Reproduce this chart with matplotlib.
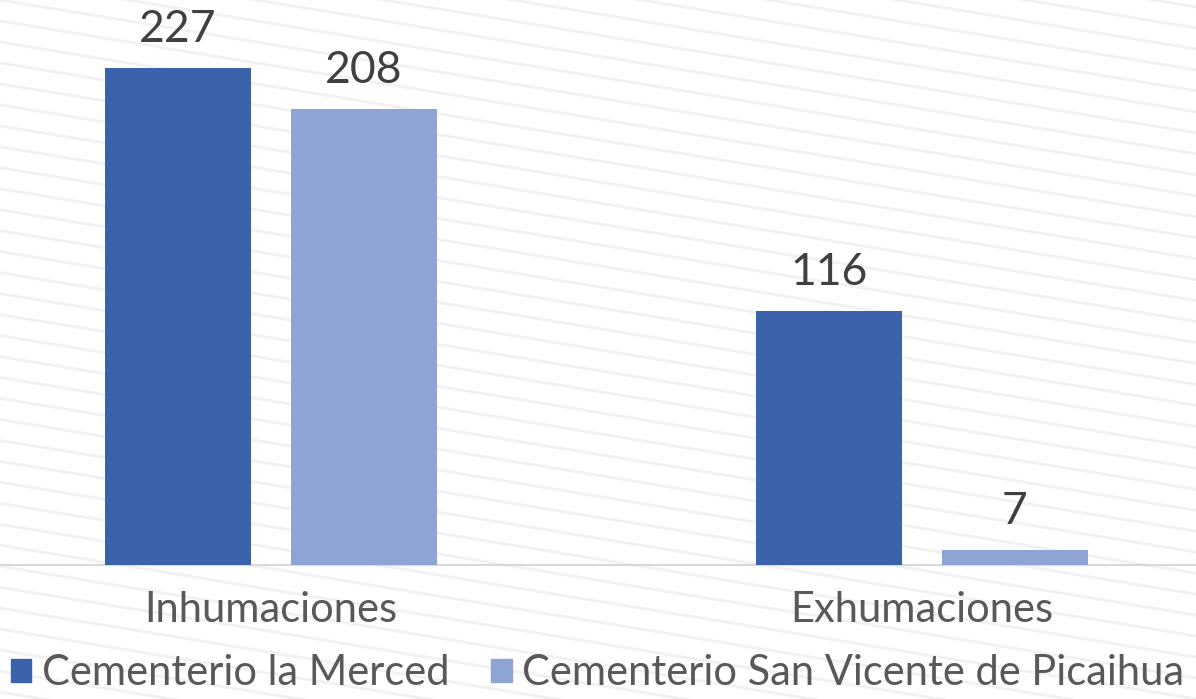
import numpy as np
import matplotlib.pyplot as plt
from matplotlib.lines import Line2D
from matplotlib.patches import Patch

categories = ["Inhumaciones", "Exhumaciones"]
series_names = ["Cementerio la Merced", "Cementerio San Vicente de Picaihua"]
merced = [227, 116]
picaihua = [208, 7]

colors = ["#3a63ab", "#8fa4d5"]
text_color = "#595959"
plt.rcParams['font.family'] = ['Lato', 'DejaVu Sans']

fig = plt.figure(figsize=(11.96, 6.99), dpi=100)
fig.patch.set_facecolor("white")

# faint diagonal texture in background
for y0 in np.arange(-0.6, 1.3, 0.03):
    fig.add_artist(Line2D([0, 1], [y0 + 0.28, y0], transform=fig.transFigure,
                          color="#f1f1f1", lw=2.0, zorder=0))

ax = fig.add_axes([0, 0.1917, 1, 0.8083])
ax.set_facecolor("none")

x = np.arange(len(categories))
w = 0.224
off = 0.1425
b1 = ax.bar(x - off, merced, w, color=colors[0], zorder=3)
b2 = ax.bar(x + off, picaihua, w, color=colors[1], zorder=3)

for bars in (b1, b2):
    for r in bars:
        ax.annotate(f"{int(r.get_height())}", (r.get_x() + r.get_width() / 2, r.get_height()),
                    xytext=(0, 13), textcoords="offset points", ha="center", va="bottom",
                    fontsize=32, color="#404040")

ax.set_xlim(-0.416, 1.421)
ax.set_ylim(0, 258)
ax.set_xticks(x)
ax.set_xticklabels(categories, fontsize=30, color=text_color)
ax.tick_params(axis="x", length=0, pad=19)
ax.set_yticks([])
for s in ["top", "left", "right"]:
    ax.spines[s].set_visible(False)
ax.spines["bottom"].set_color("#d9d9d9")
ax.spines["bottom"].set_linewidth(1.5)

handles = [Patch(color=c) for c in colors]
fig.legend(handles, series_names, loc="lower left", bbox_to_anchor=(-0.012, -0.026), ncol=2,
           frameon=False, fontsize=30, labelcolor=text_color, handlelength=0.5, handleheight=0.5,
           handletextpad=0.25, columnspacing=1.0, borderaxespad=0.2)

fig.savefig("out.png", dpi=100)
